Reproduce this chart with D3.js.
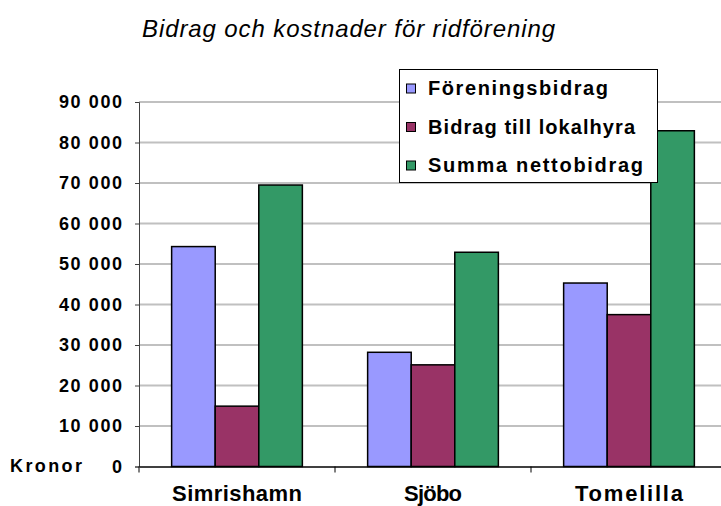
<!DOCTYPE html>
<html><head><meta charset="utf-8">
<script src="https://cdn.jsdelivr.net/npm/d3@7/dist/d3.min.js"></script>
<style>
html,body{margin:0;padding:0;background:#fff;}
svg{display:block;font-family:"Liberation Sans",Arial,sans-serif;}
</style></head>
<body><svg id="chart" width="721" height="506"></svg>
<script>
const title = "Bidrag och kostnader för ridförening";
const categories = ["Simrishamn", "Sjöbo", "Tomelilla"];
const seriesNames = ["Föreningsbidrag", "Bidrag till lokalhyra", "Summa nettobidrag"];
const foreningsbidrag = [54300, 28200, 45300];
const lokalhyra = [14900, 25100, 37500];
const summaNetto = [69500, 52900, 82900];
const yTicks = [0, 10000, 20000, 30000, 40000, 50000, 60000, 70000, 80000, 90000];
const yAxisTitle = "Kronor";
const colors = ["#9999FF", "#993366", "#339966"];

const series = [foreningsbidrag, lokalhyra, summaNetto];
const svg = d3.select("#chart");

const x0 = d3.scaleBand().domain(categories).range([139, 727]).paddingInner(0).paddingOuter(0);
const groupW = x0.bandwidth() * 0.667;
const x1 = d3.scaleBand().domain(d3.range(3)).range([0, groupW]);
const y = d3.scaleLinear().domain([0, 90000]).range([466.5, 102]);

const fmt = v => v === 0 ? "0" : d3.format(",")(v).replace(/,/g, " ");

// gridlines
svg.append("g").selectAll("line").data(yTicks.filter(d => d > 0)).join("line")
  .attr("x1", 139).attr("x2", 721)
  .attr("y1", d => y(d)).attr("y2", d => y(d))
  .attr("stroke", "#c0c0c0").attr("stroke-width", 2);

// bars
const groups = svg.append("g").selectAll("g").data(categories).join("g")
  .attr("transform", c => `translate(${x0(c) + (x0.bandwidth() - groupW) / 2},0)`);
groups.selectAll("rect").data((c, ci) => series.map((s, si) => ({si, v: s[ci]}))).join("rect")
  .attr("x", d => x1(d.si)).attr("width", x1.bandwidth())
  .attr("y", d => y(d.v)).attr("height", d => y(0) - y(d.v))
  .attr("fill", d => colors[d.si]).attr("stroke", "#000").attr("stroke-width", 1.5);

// y axis
const yAxis = d3.axisLeft(y).tickValues(yTicks).tickSize(4).tickFormat("");
const gy = svg.append("g").attr("transform", "translate(139,0)").call(yAxis);
gy.select(".domain").attr("stroke", "#404040").attr("stroke-width", 1);
gy.selectAll(".tick line").attr("stroke", "#404040");

svg.append("g").selectAll("text").data(yTicks).join("text")
  .attr("x", 122).attr("y", d => y(d) + 6)
  .attr("text-anchor", "end")
  .attr("font-size", 18).attr("font-weight", "bold").attr("fill", "#000")
  .each(function(d){ if (d !== 0) d3.select(this).attr("textLength", 63).attr("lengthAdjust", "spacing"); })
  .text(fmt);

svg.append("text").attr("x", 10).attr("y", y(0) + 5)
  .attr("font-size", 18).attr("font-weight", "bold")
  .attr("textLength", 72).attr("lengthAdjust", "spacing")
  .text(yAxisTitle);

// x axis
const xAxis = d3.axisBottom(x0).tickSize(0).tickFormat("");
const gx = svg.append("g").attr("transform", `translate(0,${y(0)})`).call(xAxis);
gx.select(".domain").attr("stroke", "#000").attr("stroke-width", 1.5);
svg.append("g").selectAll("line").data(categories.map(c => x0(c))).join("line")
  .attr("x1", d => d).attr("x2", d => d)
  .attr("y1", y(0)).attr("y2", y(0) + 6).attr("stroke", "#000");

const xLabelW = [130, 58, 108];
svg.append("g").selectAll("text").data(categories).join("text")
  .attr("x", c => x0(c) + x0.bandwidth() / 2).attr("y", 501)
  .attr("text-anchor", "middle")
  .attr("font-size", 22).attr("font-weight", "bold")
  .attr("textLength", (c, i) => xLabelW[i]).attr("lengthAdjust", "spacing")
  .text(c => c);

// title
svg.append("text").attr("x", 142).attr("y", 37)
  .attr("font-size", 24).attr("font-style", "italic")
  .attr("textLength", 413).attr("lengthAdjust", "spacing")
  .text(title);

// legend
const lg = svg.append("g");
lg.append("rect").attr("x", 399.5).attr("y", 69.5).attr("width", 258).attr("height", 113)
  .attr("fill", "#fff").attr("stroke", "#000").attr("stroke-width", 1);
const legW = [180, 207, 215];
const items = lg.selectAll("g.item").data(seriesNames).join("g").attr("class", "item")
  .attr("transform", (d, i) => `translate(0,${88.5 + i * 38.5})`);
items.append("rect").attr("x", 406.5).attr("y", -4.5).attr("width", 9).attr("height", 9)
  .attr("fill", (d, i) => colors[i]).attr("stroke", "#000").attr("stroke-width", 1);
items.append("text").attr("x", 428).attr("y", 6.5)
  .attr("font-size", 20).attr("font-weight", "bold")
  .attr("textLength", (d, i) => legW[i]).attr("lengthAdjust", "spacing")
  .text(d => d);
</script>
</body></html>
